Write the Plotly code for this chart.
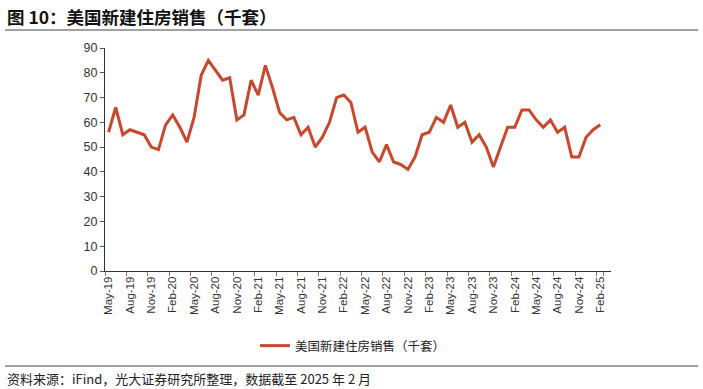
import plotly.graph_objects as go

months = [
    "May-19", "Jun-19", "Jul-19", "Aug-19", "Sep-19", "Oct-19", "Nov-19", "Dec-19",
    "Jan-20", "Feb-20", "Mar-20", "Apr-20", "May-20", "Jun-20", "Jul-20", "Aug-20",
    "Sep-20", "Oct-20", "Nov-20", "Dec-20", "Jan-21", "Feb-21", "Mar-21", "Apr-21",
    "May-21", "Jun-21", "Jul-21", "Aug-21", "Sep-21", "Oct-21", "Nov-21", "Dec-21",
    "Jan-22", "Feb-22", "Mar-22", "Apr-22", "May-22", "Jun-22", "Jul-22", "Aug-22",
    "Sep-22", "Oct-22", "Nov-22", "Dec-22", "Jan-23", "Feb-23", "Mar-23", "Apr-23",
    "May-23", "Jun-23", "Jul-23", "Aug-23", "Sep-23", "Oct-23", "Nov-23", "Dec-23",
    "Jan-24", "Feb-24", "Mar-24", "Apr-24", "May-24", "Jun-24", "Jul-24", "Aug-24",
    "Sep-24", "Oct-24", "Nov-24", "Dec-24", "Jan-25", "Feb-25",
]

new_home_sales = [
    56, 66, 55, 57, 56, 55, 50, 49,
    59, 63, 58, 52, 62, 79, 85, 81,
    77, 78, 61, 63, 77, 71, 83, 74,
    64, 61, 62, 55, 58, 50, 54, 60,
    70, 71, 68, 56, 58, 48, 44, 51,
    44, 43, 41, 46, 55, 56, 62, 60,
    67, 58, 60, 52, 55, 50, 42, 50,
    58, 58, 65, 65, 61, 58, 61, 56,
    58, 46, 46, 54, 57, 59,
]

tick_labels = months[::3]

series_name = "美国新建住房销售（千套）"
title_text = "图 10：美国新建住房销售（千套）"
source_text = "资料来源：iFind，光大证券研究所整理，数据截至 2025 年 2 月"

W, H = 703, 389
L, R, T, B = 105, 611, 48, 271

def px(x):
    return (x - L) / (R - L)

def py(y):
    return (B - y) / (B - T)

CJK = "Noto Sans CJK SC, Liberation Sans, sans-serif"
NUM = "Liberation Sans, Arial, sans-serif"
RED = "#C9472B"

fig = go.Figure()
fig.add_trace(go.Scatter(
    x=months, y=new_home_sales, mode="lines", name=series_name,
    line=dict(color=RED, width=3),
))

fig.update_layout(
    width=W, height=H,
    margin=dict(l=L, r=W - R, t=T, b=H - B, autoexpand=False),
    paper_bgcolor="white", plot_bgcolor="white",
    showlegend=True,
    legend=dict(
        orientation="h", x=px(255), y=py(346), xanchor="left", yanchor="middle",
        font=dict(family=CJK, size=12.5, color="#222"),
        bgcolor="rgba(0,0,0,0)",
    ),
    xaxis=dict(
        type="category", range=[-0.5, 70.5],
        tickmode="array", tickvals=tick_labels, ticktext=tick_labels,
        tickson="boundaries", ticks="outside", ticklen=4, tickcolor="#777",
        tickangle=-90, tickfont=dict(family=NUM, size=11.5, color="#333"),
        showline=True, linecolor="#333", linewidth=1, showgrid=False, zeroline=False,
    ),
    yaxis=dict(
        range=[0, 90], dtick=10, ticks="outside", ticklen=4, tickcolor="#555",
        tickfont=dict(family=NUM, size=12.5, color="#333"),
        showline=True, linecolor="#333", linewidth=1, showgrid=False, zeroline=False,
    ),
    annotations=[
        dict(text="<b>" + title_text + "</b>", xref="paper", yref="paper",
             x=px(5), y=py(16), xanchor="left", yanchor="middle", showarrow=False,
             font=dict(family=CJK, size=17.5, color="#111")),
        dict(text=source_text, xref="paper", yref="paper",
             x=px(5), y=py(378), xanchor="left", yanchor="middle", showarrow=False,
             font=dict(family=CJK, size=13, color="#222")),
    ],
    shapes=[
        dict(type="line", xref="paper", yref="paper", x0=px(5), x1=px(698),
             y0=py(30), y1=py(30), line=dict(color="#444", width=1)),
        dict(type="line", xref="paper", yref="paper", x0=px(5), x1=px(698),
             y0=py(366), y1=py(366), line=dict(color="#444", width=1)),
    ],
)

fig.write_html(
    "out.html",
    config={"displayModeBar": False},
    post_script="document.body.style.margin='0';document.body.style.overflow='hidden';",
)
